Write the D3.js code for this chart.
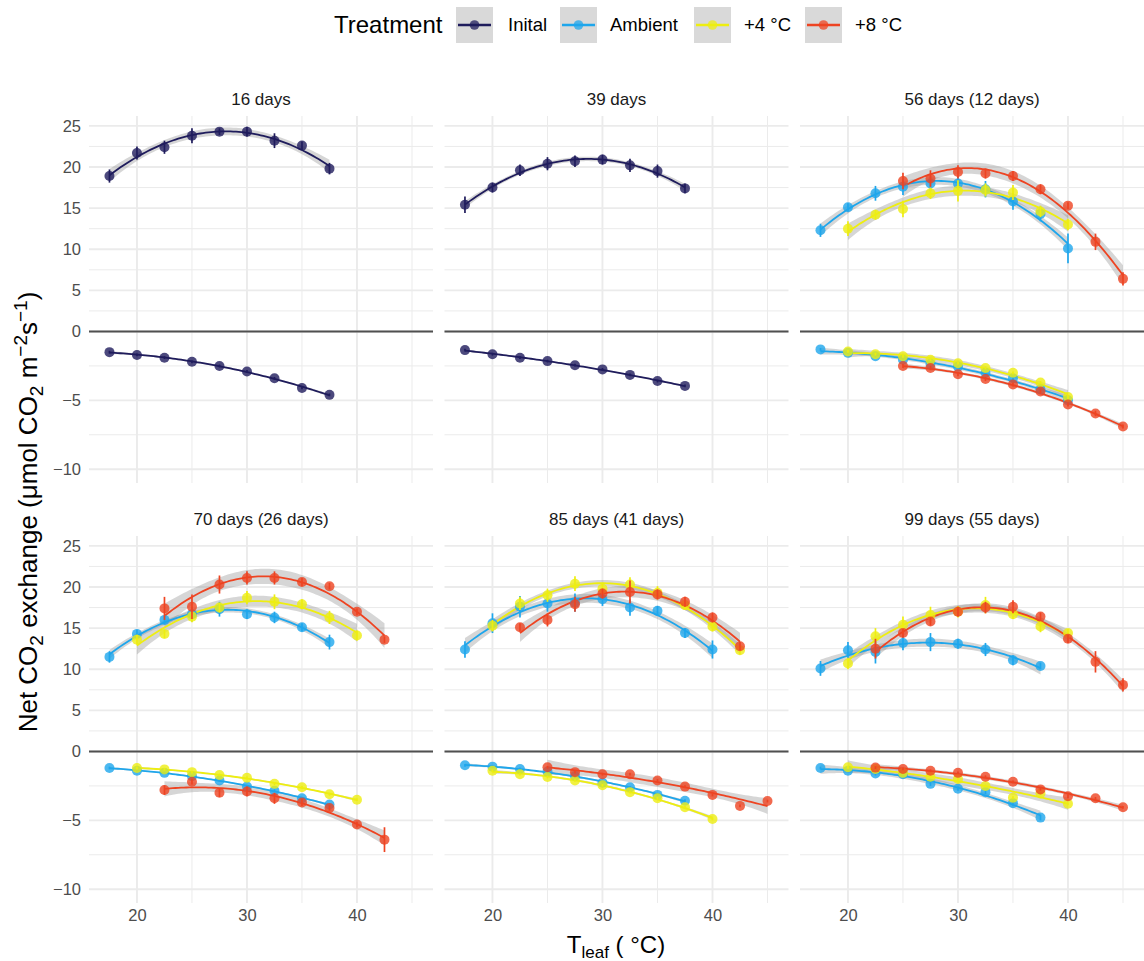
<!DOCTYPE html>
<html>
<head>
<meta charset="utf-8">
<script src="https://cdn.jsdelivr.net/npm/d3@7/dist/d3.min.js"></script>
<style>
  html, body { margin: 0; padding: 0; background: #ffffff; }
  svg text { font-family: "Liberation Sans", Arial, Helvetica, sans-serif; }
</style>
</head>
<body>
<svg id="chart" width="1144" height="961"></svg>
<script>
// ---------------- data ----------------
const panelTitles = ["16 days", "39 days", "56 days (12 days)", "70 days (26 days)", "85 days (41 days)", "99 days (55 days)"];
const treatments = ["Inital", "Ambient", "+4 °C", "+8 °C"];
const treatmentColors = ["#1f1c5c", "#1ea6ec", "#eeee10", "#ee4422"];
const xTicks = [20, 30, 40];
const xMinorTicks = [25, 35, 45];
const yTicks = [25, 20, 15, 10, 5, 0, -5, -10];
const yMinorTicks = [22.5, 17.5, 12.5, 7.5, 2.5, -2.5, -7.5];

// leaf temperatures of each measurement sequence (°C)
const T175_375 = [17.5, 20, 22.5, 25, 27.5, 30, 32.5, 35, 37.5];
const T175_40  = [17.5, 20, 22.5, 25, 27.5, 30, 32.5, 35, 37.5, 40];
const T20_40   = [20, 22.5, 25, 27.5, 30, 32.5, 35, 37.5, 40];
const T20_425  = [20, 22.5, 25, 27.5, 30, 32.5, 35, 37.5, 40, 42.5];
const T225_425 = [22.5, 25, 27.5, 30, 32.5, 35, 37.5, 40, 42.5];
const T225_45  = [22.5, 25, 27.5, 30, 32.5, 35, 37.5, 40, 42.5, 45];
const T25_45   = [25, 27.5, 30, 32.5, 35, 37.5, 40, 42.5, 45];

// 16 days
const d16_ini_A   = [18.9, 21.7, 22.4, 23.8, 24.3, 24.3, 23.2, 22.6, 19.8];
const d16_ini_Ase = [0.8, 0.8, 0.8, 0.9, 0.4, 0.6, 0.9, 0.5, 0.7];
const d16_ini_R   = [-1.5, -1.7, -1.9, -2.2, -2.5, -2.9, -3.4, -4.1, -4.6];
const d16_ini_Rse = [0.1, 0.1, 0.1, 0.1, 0.1, 0.1, 0.1, 0.1, 0.1];

// 39 days
const d39_ini_A   = [15.4, 17.5, 19.6, 20.4, 20.7, 20.9, 20.2, 19.5, 17.4];
const d39_ini_Ase = [1.0, 0.6, 0.7, 0.8, 0.7, 0.6, 0.8, 0.8, 0.6];
const d39_ini_R   = [-1.35, -1.65, -1.9, -2.15, -2.45, -2.75, -3.15, -3.6, -3.95];
const d39_ini_Rse = [0.1, 0.1, 0.1, 0.1, 0.1, 0.1, 0.1, 0.1, 0.1];

// 56 days (12 days)
const d56_amb_A   = [12.3, 15.1, 16.8, 17.6, 18.0, 18.0, 17.3, 15.8, 14.3, 10.1];
const d56_amb_Ase = [0.8, 0.5, 0.9, 1.0, 0.9, 0.8, 1.0, 1.0, 0.9, 1.8];
const d56_amb_R   = [-1.3, -1.55, -1.8, -2.05, -2.35, -2.55, -3.0, -3.4, -4.2, -5.0];
const d56_amb_Rse = [0.1, 0.1, 0.1, 0.1, 0.1, 0.1, 0.1, 0.15, 0.15, 0.15];
const d56_p4_A    = [12.5, 14.2, 14.9, 16.8, 17.1, 17.2, 16.9, 14.6, 13.0];
const d56_p4_Ase  = [0.9, 0.6, 1.0, 0.7, 1.3, 0.8, 0.9, 0.7, 0.7];
const d56_p4_R    = [-1.45, -1.65, -1.8, -2.05, -2.3, -2.65, -3.0, -3.7, -4.75];
const d56_p4_Rse  = [0.1, 0.1, 0.1, 0.1, 0.1, 0.1, 0.1, 0.1, 0.15];
const d56_p8_A    = [18.3, 18.6, 19.4, 19.2, 18.9, 17.3, 15.3, 10.9, 6.4];
const d56_p8_Ase  = [1.0, 1.0, 0.8, 0.6, 0.6, 0.6, 0.4, 1.0, 0.8];
const d56_p8_R    = [-2.5, -2.65, -3.1, -3.45, -3.85, -4.35, -5.3, -5.95, -6.9];
const d56_p8_Rse  = [0.15, 0.15, 0.15, 0.15, 0.15, 0.15, 0.15, 0.2, 0.15];

// 70 days (26 days)
const d70_amb_A   = [11.5, 14.3, 16.0, 16.7, 17.3, 16.7, 16.3, 15.1, 13.3];
const d70_amb_Ase = [0.7, 0.5, 0.5, 0.9, 0.9, 0.6, 0.7, 0.5, 0.9];
const d70_amb_R   = [-1.2, -1.4, -1.55, -1.8, -2.1, -2.55, -2.85, -3.4, -3.85];
const d70_amb_Rse = [0.1, 0.1, 0.1, 0.1, 0.1, 0.1, 0.1, 0.1, 0.1];
const d70_p4_A    = [13.6, 14.3, 16.4, 17.5, 18.7, 18.2, 17.9, 16.3, 14.1];
const d70_p4_Ase  = [0.6, 0.5, 0.7, 0.6, 0.8, 0.9, 0.6, 0.8, 0.6];
const d70_p4_R    = [-1.2, -1.3, -1.5, -1.7, -1.9, -2.35, -2.6, -3.1, -3.5];
const d70_p4_Rse  = [0.1, 0.1, 0.1, 0.1, 0.1, 0.1, 0.1, 0.1, 0.1];
const d70_p8_A    = [17.4, 17.6, 20.3, 21.1, 21.1, 20.6, 20.1, 17.0, 13.6];
const d70_p8_Ase  = [1.4, 1.5, 1.1, 0.8, 0.8, 0.5, 0.4, 0.4, 0.4];
const d70_p8_R    = [-2.8, -2.2, -3.0, -2.9, -3.4, -3.7, -4.1, -5.3, -6.4];
const d70_p8_Rse  = [0.35, 0.2, 0.3, 0.35, 0.4, 0.25, 0.2, 0.2, 0.9];

// 85 days (41 days)
const d85_amb_A   = [12.4, 15.6, 17.6, 18.0, 18.1, 18.5, 17.5, 17.1, 14.4, 12.4];
const d85_amb_Ase = [1.0, 1.2, 1.3, 1.0, 1.1, 0.8, 1.0, 0.6, 0.6, 1.1];
const d85_amb_R   = [-1.0, -1.1, -1.27, -1.46, -1.78, -2.26, -2.6, -3.15, -3.57];
const d85_amb_Rse = [0.1, 0.1, 0.1, 0.1, 0.1, 0.1, 0.1, 0.1, 0.1];
const d85_p4_A    = [15.3, 18.0, 19.0, 20.4, 19.8, 20.3, 19.3, 17.8, 15.2, 12.3];
const d85_p4_Ase  = [0.7, 0.8, 0.8, 0.9, 0.7, 0.9, 0.8, 0.6, 0.6, 0.5];
const d85_p4_R    = [-1.4, -1.65, -1.85, -2.1, -2.45, -2.95, -3.4, -4.05, -4.9];
const d85_p4_Rse  = [0.1, 0.1, 0.1, 0.1, 0.1, 0.1, 0.1, 0.1, 0.1];
const d85_p8_A    = [15.1, 16.0, 17.9, 19.2, 19.4, 19.1, 18.2, 16.3, 12.8];
const d85_p8_Ase  = [0.5, 0.8, 0.9, 0.6, 1.4, 0.6, 0.6, 0.6, 0.5];
const d85_p8_R    = [-1.15, -1.5, -1.65, -1.65, -2.1, -2.55, -3.15, -3.95, -3.6];
const d85_p8_Rse  = [0.1, 0.1, 0.1, 0.1, 0.1, 0.1, 0.1, 0.1, 0.1];

// 99 days (55 days)
const d99_amb_A   = [10.1, 12.3, 12.1, 13.2, 13.3, 13.1, 12.4, 11.1, 10.4];
const d99_amb_Ase = [0.9, 1.0, 1.4, 0.9, 1.1, 0.6, 0.8, 0.6, 0.4];
const d99_amb_R   = [-1.2, -1.4, -1.6, -1.65, -2.35, -2.7, -2.95, -3.75, -4.8];
const d99_amb_Rse = [0.1, 0.1, 0.15, 0.1, 0.15, 0.15, 0.15, 0.2, 0.2];
const d99_p4_A    = [10.7, 14.0, 15.4, 16.6, 17.0, 17.8, 16.7, 15.2, 14.4];
const d99_p4_Ase  = [0.7, 1.0, 1.0, 1.0, 0.7, 1.0, 0.6, 0.7, 0.5];
const d99_p4_R    = [-1.15, -1.27, -1.55, -1.83, -2.0, -2.5, -3.35, -3.05, -3.8];
const d99_p4_Rse  = [0.1, 0.1, 0.1, 0.1, 0.1, 0.1, 0.1, 0.1, 0.1];
const d99_p8_A    = [12.5, 14.4, 15.8, 17.0, 17.5, 17.6, 16.4, 13.7, 10.9, 8.1];
const d99_p8_Ase  = [1.2, 0.5, 0.5, 0.6, 0.7, 0.8, 0.5, 0.5, 1.3, 0.8];
const d99_p8_R    = [-1.17, -1.27, -1.4, -1.55, -1.83, -2.2, -2.75, -3.25, -3.4, -4.05];
const d99_p8_Rse  = [0.1, 0.1, 0.1, 0.1, 0.1, 0.1, 0.1, 0.15, 0.1, 0.1];

// one row per curve: panel index, treatment index, temperatures, means, standard errors
const curves = [
  [0, 0, T175_375, d16_ini_A, d16_ini_Ase], [0, 0, T175_375, d16_ini_R, d16_ini_Rse],
  [1, 0, T175_375, d39_ini_A, d39_ini_Ase], [1, 0, T175_375, d39_ini_R, d39_ini_Rse],
  [2, 1, T175_40, d56_amb_A, d56_amb_Ase],  [2, 1, T175_40, d56_amb_R, d56_amb_Rse],
  [2, 2, T20_40, d56_p4_A, d56_p4_Ase],     [2, 2, T20_40, d56_p4_R, d56_p4_Rse],
  [2, 3, T25_45, d56_p8_A, d56_p8_Ase],     [2, 3, T25_45, d56_p8_R, d56_p8_Rse],
  [3, 1, T175_375, d70_amb_A, d70_amb_Ase], [3, 1, T175_375, d70_amb_R, d70_amb_Rse],
  [3, 2, T20_40, d70_p4_A, d70_p4_Ase],     [3, 2, T20_40, d70_p4_R, d70_p4_Rse],
  [3, 3, T225_425, d70_p8_A, d70_p8_Ase],   [3, 3, T225_425, d70_p8_R, d70_p8_Rse],
  [4, 1, T175_40, d85_amb_A, d85_amb_Ase],  [4, 1, T175_375, d85_amb_R, d85_amb_Rse],
  [4, 2, T20_425, d85_p4_A, d85_p4_Ase],    [4, 2, T20_40, d85_p4_R, d85_p4_Rse],
  [4, 3, T225_425, d85_p8_A, d85_p8_Ase],   [4, 3, T25_45, d85_p8_R, d85_p8_Rse],
  [5, 1, T175_375, d99_amb_A, d99_amb_Ase], [5, 1, T175_375, d99_amb_R, d99_amb_Rse],
  [5, 2, T20_40, d99_p4_A, d99_p4_Ase],     [5, 2, T20_40, d99_p4_R, d99_p4_Rse],
  [5, 3, T225_45, d99_p8_A, d99_p8_Ase],    [5, 3, T225_45, d99_p8_R, d99_p8_Rse]
];

// ---------------- quadratic least-squares fit with 95% confidence band ----------------
const tTable = {3: 3.182, 4: 2.776, 5: 2.571, 6: 2.447, 7: 2.365, 8: 2.306, 9: 2.262, 10: 2.228};

function inv3(m) {
  const [a, b, c] = m[0], [d, e, f] = m[1], [g, h, i] = m[2];
  const A = e * i - f * h, B = -(d * i - f * g), C = d * h - e * g;
  const det = a * A + b * B + c * C;
  return [
    [A / det, -(b * i - c * h) / det, (b * f - c * e) / det],
    [B / det, (a * i - c * g) / det, -(a * f - c * d) / det],
    [C / det, -(a * h - b * g) / det, (a * e - b * d) / det]
  ];
}

function quadFit(xs, ys) {
  const n = xs.length;
  const xm = d3.mean(xs);
  const rows = xs.map(x => [1, x - xm, (x - xm) * (x - xm)]);
  const XtX = [[0, 0, 0], [0, 0, 0], [0, 0, 0]], Xty = [0, 0, 0];
  rows.forEach((r, k) => {
    for (let i = 0; i < 3; i++) {
      Xty[i] += r[i] * ys[k];
      for (let j = 0; j < 3; j++) XtX[i][j] += r[i] * r[j];
    }
  });
  const V = inv3(XtX);
  const beta = [0, 1, 2].map(i => V[i][0] * Xty[0] + V[i][1] * Xty[1] + V[i][2] * Xty[2]);
  const pred = x => { const u = x - xm; return beta[0] + beta[1] * u + beta[2] * u * u; };
  const sse = d3.sum(xs, (x, k) => (ys[k] - pred(x)) ** 2);
  const df = n - 3;
  const s2 = sse / df;
  const tq = tTable[df] || 2.2;
  return x => {
    const u = x - xm, v = [1, u, u * u];
    let q = 0;
    for (let i = 0; i < 3; i++) for (let j = 0; j < 3; j++) q += v[i] * V[i][j] * v[j];
    const half = tq * Math.sqrt(s2 * q);
    const fit = pred(x);
    return { fit, lo: fit - half, hi: fit + half };
  };
}

// ---------------- layout ----------------
const svg = d3.select("#chart");
const panelW = 344, panelH = 367;
const colLeft = [89, 444.5, 800];
const rowTop = [116, 536];
const zeroFromTop = 215.5;
const xDomain = [15.64, 46.91];

const layout = panelTitles.map((title, i) => {
  const left = colLeft[i % 3], top = rowTop[Math.floor(i / 3)];
  const x = d3.scaleLinear().domain(xDomain).range([left, left + panelW]);
  const y = d3.scaleLinear().domain([-11, 0, 26.2]).range([top + panelH, top + zeroFromTop, top]);
  return { title, left, top, x, y, row: Math.floor(i / 3), col: i % 3 };
});

const gridColor = "#ebebeb";
const tickColor = "#4d4d4d";

layout.forEach((p, i) => {
  const g = svg.append("g").attr("class", "panel");
  const clipId = "clip" + i;
  svg.append("clipPath").attr("id", clipId)
    .append("rect").attr("x", p.left).attr("y", p.top).attr("width", panelW).attr("height", panelH);

  // grid
  g.selectAll(".ymin").data(yMinorTicks).join("line")
    .attr("x1", p.left).attr("x2", p.left + panelW)
    .attr("y1", d => p.y(d)).attr("y2", d => p.y(d))
    .attr("stroke", gridColor).attr("stroke-width", 1);
  g.selectAll(".xmin").data(xMinorTicks).join("line")
    .attr("y1", p.top).attr("y2", p.top + panelH)
    .attr("x1", d => p.x(d)).attr("x2", d => p.x(d))
    .attr("stroke", gridColor).attr("stroke-width", 1);
  g.selectAll(".ymaj").data(yTicks).join("line")
    .attr("x1", p.left).attr("x2", p.left + panelW)
    .attr("y1", d => p.y(d)).attr("y2", d => p.y(d))
    .attr("stroke", gridColor).attr("stroke-width", 1.9);
  g.selectAll(".xmaj").data(xTicks).join("line")
    .attr("y1", p.top).attr("y2", p.top + panelH)
    .attr("x1", d => p.x(d)).attr("x2", d => p.x(d))
    .attr("stroke", gridColor).attr("stroke-width", 1.9);

  // zero reference line
  g.append("line")
    .attr("x1", p.left).attr("x2", p.left + panelW)
    .attr("y1", p.y(0)).attr("y2", p.y(0))
    .attr("stroke", "#505050").attr("stroke-width", 2);

  // strip title
  svg.append("text")
    .attr("x", p.left + panelW / 2).attr("y", p.top - 17)
    .attr("dy", "0.35em").attr("text-anchor", "middle")
    .attr("font-size", 17).attr("fill", "#1a1a1a")
    .text(p.title);

  // y axis on the first column
  if (p.col === 0) {
    const ax = svg.append("g").attr("transform", `translate(${p.left},0)`)
      .call(d3.axisLeft(p.y).tickValues(yTicks).tickSize(0).tickPadding(8)
        .tickFormat(d => d < 0 ? "\u2212" + Math.abs(d) : d));
    ax.select(".domain").remove();
    ax.selectAll("text").attr("font-size", 16.5).attr("fill", tickColor)
      .style("font-family", '"Liberation Sans", Arial, sans-serif');
  }
  // x axis on the bottom row
  if (p.row === 1) {
    const ax = svg.append("g").attr("transform", `translate(0,${p.top + panelH})`)
      .call(d3.axisBottom(p.x).tickValues(xTicks).tickSize(0).tickPadding(6));
    ax.select(".domain").remove();
    ax.selectAll("text").attr("font-size", 16.5).attr("fill", tickColor)
      .style("font-family", '"Liberation Sans", Arial, sans-serif');
  }
  p.layer = { ribbons: g.append("g").attr("clip-path", `url(#${clipId})`),
              lines: null, marks: null };
});
layout.forEach((p, i) => {
  p.layer.lines = svg.append("g").attr("clip-path", `url(#clip${i})`);
});
layout.forEach(p => {
  p.layer.marks = svg.append("g");
});

// ---------------- curves ----------------
curves.forEach(([pi, ti, ts, ms, ses]) => {
  const p = layout[pi];
  const col = treatmentColors[ti];
  const model = quadFit(ts, ms);
  const lo = d3.min(ts), hi = d3.max(ts);
  const grid = d3.range(0, 81).map(k => lo + (hi - lo) * k / 80);
  const band = grid.map(x => ({ x, ...model(x) }));

  p.layer.ribbons.append("path").datum(band)
    .attr("d", d3.area().x(d => p.x(d.x)).y0(d => p.y(d.lo)).y1(d => p.y(d.hi)))
    .attr("fill", "#999999").attr("fill-opacity", 0.4);

  p.layer.lines.append("path").datum(band)
    .attr("d", d3.line().x(d => p.x(d.x)).y(d => p.y(d.fit)))
    .attr("fill", "none").attr("stroke", col).attr("stroke-width", 1.8);

  const pts = ts.map((t, k) => ({ t, m: ms[k], se: ses[k] }));
  const mg = p.layer.marks.append("g");
  mg.selectAll("line").data(pts).join("line")
    .attr("x1", d => p.x(d.t)).attr("x2", d => p.x(d.t))
    .attr("y1", d => p.y(d.m - d.se)).attr("y2", d => p.y(d.m + d.se))
    .attr("stroke", col).attr("stroke-width", 1.7);
  mg.selectAll("circle").data(pts).join("circle")
    .attr("cx", d => p.x(d.t)).attr("cy", d => p.y(d.m))
    .attr("r", 5).attr("fill", col).attr("fill-opacity", 0.8);
});

// ---------------- axis titles ----------------
const yTitle = svg.append("text")
  .attr("transform", "translate(37,512) rotate(-90)")
  .attr("text-anchor", "middle").attr("font-size", 26).attr("fill", "#000");
yTitle.append("tspan").text("Net CO");
yTitle.append("tspan").attr("font-size", 19).attr("dy", 6).text("2");
yTitle.append("tspan").attr("dy", -6).text(" exchange (\u03bcmol CO");
yTitle.append("tspan").attr("font-size", 19).attr("dy", 6).text("2");
yTitle.append("tspan").attr("dy", -6).text(" m");
yTitle.append("tspan").attr("font-size", 19).attr("dy", -10).text("\u22122");
yTitle.append("tspan").attr("dy", 10).text("s");
yTitle.append("tspan").attr("font-size", 19).attr("dy", -10).text("\u22121");
yTitle.append("tspan").attr("dy", 10).text(")");

const xTitle = svg.append("text")
  .attr("x", 616).attr("y", 953)
  .attr("text-anchor", "middle").attr("font-size", 24).attr("fill", "#000");
xTitle.append("tspan").text("T");
xTitle.append("tspan").attr("font-size", 17).attr("dy", 5).text("leaf");
xTitle.append("tspan").attr("dy", -5).text(" ( \u00b0C)");

// ---------------- legend ----------------
const legend = svg.append("g");
legend.append("text").attr("x", 334).attr("y", 25).attr("dy", "0.35em")
  .attr("font-size", 24).attr("fill", "#000").text("Treatment");
const keyX = [456, 560, 694, 805];
const labelX = [508, 610, 744, 855];
treatments.forEach((name, i) => {
  const k = legend.append("g").attr("transform", `translate(${keyX[i]},7)`);
  k.append("rect").attr("width", 37).attr("height", 36).attr("fill", "#d9d9d9");
  k.append("line").attr("x1", 2).attr("x2", 35).attr("y1", 18).attr("y2", 18)
    .attr("stroke", treatmentColors[i]).attr("stroke-width", 2.6);
  k.append("circle").attr("cx", 18.5).attr("cy", 18).attr("r", 4.8)
    .attr("fill", treatmentColors[i]).attr("fill-opacity", 0.75);
  legend.append("text").attr("x", labelX[i]).attr("y", 25).attr("dy", "0.35em")
    .attr("font-size", 18.5).attr("fill", "#000").text(name);
});
</script>
</body>
</html>
